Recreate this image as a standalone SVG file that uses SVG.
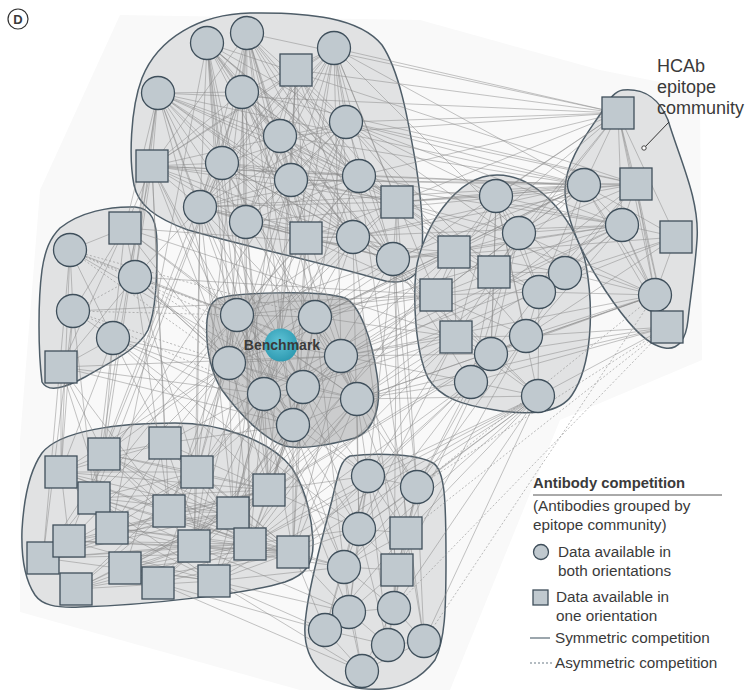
<svg xmlns="http://www.w3.org/2000/svg" width="745" height="691" viewBox="0 0 745 691">
<defs>
<radialGradient id="teal" cx="0.45" cy="0.4" r="0.6"><stop offset="0" stop-color="#5fc3d6"/><stop offset="1" stop-color="#2f9bb2"/></radialGradient>
</defs>
<style>
.hull{fill:#e1e2e3;stroke:#4e5d68;stroke-width:1.5}
.e{fill:none;stroke:#8a8a8a;stroke-opacity:.5;stroke-width:1;stroke-linejoin:round}
.d{fill:none;stroke:#8f8f8f;stroke-opacity:.6;stroke-width:1;stroke-dasharray:2 2}
.n{fill:#c0c9cf;stroke:#3f4f5b;stroke-width:1.3}
.t{font-family:"Liberation Sans",Arial,sans-serif;fill:#3a3a3a}
</style>
<rect width="745" height="691" fill="#ffffff"/>
<polygon points="120,15 420,20 600,70 700,90 702,360 560,420 450,690 300,690 20,612 20,440 40,190" fill="#f9f9f9"/>
<g id="label-d"><circle cx="18" cy="19" r="10" fill="#fff" stroke="#333" stroke-width="1.2"/><text class="t" x="18" y="24" font-size="13" font-weight="bold" text-anchor="middle" fill="#333">D</text></g>

<g id="communities">
<path id="hull-top" class="hull" d="M250 13C310 12 360 18 382 45C400 72 408 120 416 165C422 205 426 250 418 270C410 284 392 284 378 279C320 262 240 245 188 230C155 218 138 205 134 185C129 160 130 110 142 78C158 38 200 14 250 13Z"/>
<path id="hull-left" class="hull" d="M60 228C80 212 110 206 135 207C152 208 157 222 157 245C157 280 156 310 148 330C138 350 110 362 85 377C65 388 48 393 42 382C38 350 38 300 42 270C45 250 50 238 60 228Z"/>
<path id="hull-bench" class="hull" style="fill:#cbcccd" d="M217 299C235 292 320 290 345 298C360 305 372 340 377 375C382 405 375 430 355 438C330 445 300 450 285 446C265 440 240 415 222 390C212 375 205 350 207 320C208 308 212 302 217 299Z"/>
<path id="hull-mid" class="hull" d="M497 175C540 175 578 225 586 265C594 310 592 365 572 395C560 413 530 416 495 410C462 405 440 398 428 378C415 350 413 300 416 270C422 230 455 175 497 175Z"/>
<path id="hull-hcab" class="hull" d="M623 90C645 88 660 100 668 120C680 160 700 200 697 240C695 270 690 300 688 320C686 340 678 350 665 348C645 345 625 320 605 290C585 260 565 220 565 190C565 160 590 130 603 110C610 98 615 91 623 90Z"/>
<path id="hull-squares" class="hull" d="M175 423C220 423 270 440 292 468C305 488 311 510 313 540C314 565 305 575 285 582C250 593 150 605 80 607C55 608 42 605 35 595C25 580 21 560 22 530C24 495 30 470 42 453C60 430 120 423 175 423Z"/>
<path id="hull-bottom" class="hull" d="M350 456C380 452 420 455 433 463C445 470 446 500 446 560C446 610 445 640 435 660C420 680 400 688 383 689C360 690 340 688 320 670C305 655 303 635 306 615C310 580 322 540 332 500C338 475 340 460 350 456Z"/>
</g>

<g id="connectors">
<path class="e" d="M242 92L207 43L280 136M222 163L207 43L291 180M359 176L207 43L200 207M246 222L207 43L306 238M353 237L207 43L393 259M397 202L207 43L346 122M237 315L207 43L229 363M264 394L207 43L112 528M207 43L454 252"/>
<path class="e" d="M242 92L247 33L280 136M222 163L247 33L291 180M359 176L247 33L397 202M200 207L247 33L246 222M306 238L247 33L353 237M393 259L247 33L152 166M346 122L247 33L315 317M303 387L247 33L293 425M618 113L247 33L197 472"/>
<path class="e" d="M346 122L334 48L280 136M222 163L334 48L291 180M359 176L334 48L397 202M200 207L334 48L246 222M306 238L334 48L353 237M393 259L334 48L296 70M242 92L334 48L152 166M618 113L334 48L584 185M519 233L334 48L436 295M334 48L341 356"/>
<path class="e" d="M242 92L158 93L280 136M222 163L158 93L291 180M359 176L158 93L200 207M246 222L158 93L306 238M353 237L158 93L393 259M397 202L158 93L152 166M125 228L158 93L135 277M229 363L158 93L237 315M104 454L158 93L94 498"/>
<path class="e" d="M280 136L296 70L222 163M291 180L296 70L359 176M200 207L296 70L246 222M306 238L296 70L353 237M393 259L296 70L152 166M618 113L296 70L494 272M296 70L281 345"/>
<path class="e" d="M280 136L242 92L222 163M291 180L242 92L359 176M397 202L242 92L200 207M246 222L242 92L306 238M353 237L242 92L393 259M152 166L242 92L281 345M341 356L242 92L636 184M242 92L69 541"/>
<path class="e" d="M222 163L346 122L291 180M200 207L346 122L246 222M306 238L346 122L393 259M152 166L346 122L618 113M636 184L346 122L584 185M496 196L346 122L454 252M565 273L346 122L315 317"/>
<path class="e" d="M222 163L152 166L291 180M359 176L152 166L397 202M246 222L152 166L306 238M353 237L152 166L200 207M125 228L152 166L135 277M113 338L152 166L229 363M264 394L152 166L165 443M152 166L169 511"/>
<path class="e" d="M359 176L280 136L200 207M246 222L280 136L306 238M353 237L280 136L393 259M397 202L280 136L357 399M584 185L280 136L454 252"/>
<path class="e" d="M359 176L222 163L397 202M200 207L222 163L306 238M353 237L222 163L393 259M315 317L222 163L357 399M104 454L222 163L94 498"/>
<path class="e" d="M397 202L291 180L200 207M246 222L291 180L353 237M393 259L291 180L584 185M229 363L291 180L43 558"/>
<path class="e" d="M200 207L359 176L246 222M306 238L359 176L397 202M618 113L359 176L622 225M264 394L359 176L424 641"/>
<path class="e" d="M200 207L397 202L306 238M353 237L397 202L393 259M496 196L397 202L519 233M494 272L397 202L539 292M584 185L397 202L636 184M655 295L397 202L417 487M397 202L394 608"/>
<path class="e" d="M246 222L200 207L306 238M353 237L200 207L393 259M135 277L200 207L303 387M293 425L200 207L341 356M197 472L200 207L233 513M200 207L194 546"/>
<path class="e" d="M306 238L246 222L353 237M393 259L246 222L357 399M264 394L246 222L269 490M246 222L250 544"/>
<path class="e" d="M353 237L306 238L393 259M237 315L306 238L229 363M526 336L306 238L344 567M293 552L306 238L214 581"/>
<path class="e" d="M393 259L353 237L494 272M491 354L353 237L636 184M229 363L353 237L264 394M269 490L353 237L359 529M353 237L397 570"/>
<path class="e" d="M454 252L393 259L436 295M456 337L393 259L471 382M622 225L393 259L676 237M237 315L393 259L293 425M368 476L393 259L417 487M393 259L406 533"/>
<path class="e" d="M158 93L618 113M158 93L584 185M152 166L584 185M222 163L622 225M200 207L584 185M246 222L636 184M306 238L622 225M207 43L636 184M280 136L618 113M291 180L636 184M359 176L584 185M346 122L622 225M397 202L618 113M393 259L584 185M353 237L584 185"/>
<path class="e" d="M242 92L250 544M280 136L233 513M291 180L194 546M246 222L194 546M207 43L250 544M222 163L269 490M296 70L269 490"/>
<path class="e" d="M346 122L229 363M359 176L237 315M334 48L264 394M247 33L229 363M152 166L293 425M158 93L303 387M397 202L229 363M393 259L229 363M353 237L237 315M306 238L293 425"/>
<path class="e" d="M135 277L368 476M113 338L359 529M125 228L456 337M73 311L436 295M70 250L303 387M61 367L341 356M454 252L197 472M436 295L165 443"/>
<path class="e" d="M456 337L194 546M526 336L233 513M491 354L269 490M539 292L303 387M565 273L341 356M584 185L315 317M618 113L315 317M636 184L357 399M622 225L303 387M655 295L357 399"/>
<path class="e" d="M70 250L125 228L135 277M73 311L125 228L113 338M61 367L125 228L237 315M229 363L125 228L281 345M125 228L454 252"/>
<path class="e" d="M73 311L70 250L113 338M237 315L70 250L43 558M70 250L61 472"/>
<path class="d" d="M135 277L70 250L229 363M281 345L70 250L315 317"/>
<path class="e" d="M61 367L135 277L237 315M229 363L135 277L264 394M197 472L135 277L169 511M135 277L436 295"/>
<path class="d" d="M73 311L135 277L341 356M135 277L303 387"/>
<path class="e" d="M113 338L73 311L94 498M43 558L73 311L61 472"/>
<path class="d" d="M229 363L73 311L237 315M73 311L264 394"/>
<path class="e" d="M61 367L113 338L229 363M264 394L113 338L293 425M61 472L113 338L104 454M165 443L113 338L94 498M113 338L269 490"/>
<path class="e" d="M264 394L61 367L293 425M61 472L61 367L104 454M112 528L61 367L169 511"/>
<path class="e" d="M237 315L281 345L315 317M229 363L281 345L341 356M264 394L281 345L303 387M357 399L281 345L293 425M197 472L281 345L233 513M281 345L454 252"/>
<path class="e" d="M315 317L237 315L229 363M341 356L237 315L264 394M303 387L237 315L357 399M293 425L237 315L104 454M197 472L237 315L169 511M43 558L237 315L436 295"/>
<path class="e" d="M229 363L315 317L341 356M264 394L315 317L303 387M357 399L315 317L293 425M454 252L315 317L436 295M456 337L315 317L584 185M315 317L622 225"/>
<path class="e" d="M341 356L229 363L264 394M303 387L229 363L357 399M293 425L229 363L61 472M104 454L229 363L165 443M197 472L229 363L269 490M94 498L229 363L169 511M229 363L233 513"/>
<path class="e" d="M264 394L341 356L303 387M357 399L341 356L293 425M436 295L341 356L456 337M471 382L341 356L491 354M250 544L341 356L293 552M417 487L341 356L406 533M622 225L341 356L655 295"/>
<path class="e" d="M303 387L264 394L357 399M293 425L264 394L197 472M269 490L264 394L169 511M233 513L264 394L194 546M250 544L264 394L293 552M344 567L264 394L349 612"/>
<path class="e" d="M357 399L303 387L293 425M269 490L303 387L233 513M250 544L303 387L293 552M456 337L303 387L436 295M368 476L303 387L359 529"/>
<path class="e" d="M293 425L357 399L456 337M471 382L357 399L538 396M269 490L357 399L250 544M293 552L357 399L214 581M368 476L357 399L417 487M359 529L357 399L655 295M357 399L667 327"/>
<path class="e" d="M165 443L293 425L269 490M233 513L293 425L194 546M250 544L293 425L293 552M158 583L293 425L214 581M368 476L293 425L359 529M293 425L344 567"/>
<path class="e" d="M519 233L496 196L454 252M494 272L496 196L565 273M436 295L496 196L539 292M526 336L496 196L456 337M491 354L496 196L538 396"/>
<path class="e" d="M454 252L519 233L494 272M436 295L519 233L456 337M491 354L519 233L471 382M519 233L539 292"/>
<path class="e" d="M494 272L454 252L436 295M456 337L454 252L526 336M454 252L565 273M454 252L269 490"/>
<path class="e" d="M565 273L494 272L539 292M491 354L494 272L471 382M494 272L436 295"/>
<path class="e" d="M436 295L565 273L526 336M456 337L565 273L539 292"/>
<path class="e" d="M539 292L436 295L491 354M538 396L436 295L456 337M436 295L233 513"/>
<path class="e" d="M471 382L539 292L538 396M539 292L526 336"/>
<path class="e" d="M456 337L526 336L491 354M417 487L526 336L397 570"/>
<path class="e" d="M538 396L456 337L491 354M368 476L456 337L359 529M456 337L250 544"/>
<path class="e" d="M417 487L491 354L406 533M491 354L538 396"/>
<path class="e" d="M538 396L471 382L368 476M417 487L471 382L359 529M293 552L471 382L250 544"/>
<path class="e" d="M368 476L538 396L417 487M359 529L538 396L406 533M344 567L538 396L394 608M424 641L538 396L293 552M214 581L538 396L250 544"/>
<path class="e" d="M584 185L618 113L636 184M622 225L618 113L676 237M655 295L618 113L667 327M496 196L618 113L519 233M454 252L618 113L494 272"/>
<path class="e" d="M636 184L584 185L622 225M676 237L584 185L655 295M667 327L584 185L496 196M519 233L584 185L494 272M565 273L584 185L539 292M454 252L584 185L436 295"/>
<path class="e" d="M622 225L636 184L655 295M667 327L636 184L519 233M565 273L636 184L539 292"/>
<path class="e" d="M676 237L622 225L655 295M667 327L622 225L496 196M519 233L622 225L565 273M539 292L622 225L526 336M622 225L454 252"/>
<path class="e" d="M655 295L676 237L565 273M539 292L676 237L526 336"/>
<path class="e" d="M667 327L655 295L565 273M539 292L655 295L526 336M491 354L655 295L519 233"/>
<path class="d" d="M424 641L655 295L417 487"/>
<path class="e" d="M526 336L667 327L491 354M538 396L667 327L471 382"/>
<path class="d" d="M417 487L667 327L406 533M667 327L394 608"/>
<path class="e" d="M104 454L61 472L165 443M197 472L61 472L94 498M169 511L61 472L112 528M69 541L61 472L269 490M61 472L233 513"/>
<path class="e" d="M165 443L104 454L197 472M269 490L104 454L169 511M233 513L104 454L194 546M104 454L250 544"/>
<path class="e" d="M197 472L165 443L269 490M233 513L165 443L250 544M293 552L165 443L112 528M69 541L165 443L125 568"/>
<path class="e" d="M269 490L197 472L94 498M112 528L197 472L194 546M293 552L197 472L158 583M76 589L197 472L43 558"/>
<path class="e" d="M94 498L269 490L112 528M69 541L269 490L43 558M125 568L269 490L158 583M76 589L269 490L169 511M194 546L269 490L368 476M269 490L359 529"/>
<path class="e" d="M233 513L94 498L194 546M250 544L94 498L293 552M94 498L214 581"/>
<path class="e" d="M250 544L169 511L293 552M76 589L169 511L43 558M169 511L233 513"/>
<path class="e" d="M112 528L233 513L69 541M43 558L233 513L125 568M158 583L233 513L76 589M233 513L293 552"/>
<path class="e" d="M250 544L112 528L293 552M214 581L112 528L194 546"/>
<path class="e" d="M194 546L69 541L250 544M293 552L69 541L214 581"/>
<path class="e" d="M250 544L43 558L293 552M214 581L43 558L194 546"/>
<path class="e" d="M250 544L194 546L293 552M76 589L194 546L125 568M344 567L194 546L349 612"/>
<path class="e" d="M125 568L250 544L158 583M76 589L250 544L293 552M359 529L250 544L344 567M250 544L368 476"/>
<path class="e" d="M125 568L293 552L158 583M214 581L293 552L76 589M368 476L293 552L359 529M344 567L293 552L349 612M293 552L325 630"/>
<path class="e" d="M214 581L125 568L158 583M61 472L250 544M104 454L293 552M165 443L214 581M197 472L250 544"/>
<path class="e" d="M76 589L214 581L344 567M349 612L214 581L325 630M214 581L362 671"/>
<path class="e" d="M325 630L158 583L362 671"/>
<path class="e" d="M417 487L368 476L359 529M406 533L368 476L344 567M349 612L368 476L325 630M388 645L368 476L397 570"/>
<path class="e" d="M359 529L417 487L406 533M397 570L417 487L394 608M424 641L417 487L344 567"/>
<path class="e" d="M406 533L359 529L344 567M349 612L359 529L397 570M359 529L388 645"/>
<path class="e" d="M344 567L406 533L397 570M394 608L406 533L424 641M406 533L325 630"/>
<path class="e" d="M349 612L344 567L325 630M394 608L344 567L397 570M344 567L362 671"/>
<path class="e" d="M394 608L397 570L388 645M397 570L349 612"/>
<path class="e" d="M325 630L349 612L388 645M362 671L349 612L394 608"/>
<path class="e" d="M424 641L394 608L388 645M394 608L362 671"/>
<path class="e" d="M362 671L325 630L388 645M388 645L424 641L362 671M388 645L362 671"/>
</g>

<g id="nodes">
<g id="t1"><circle class="n" cx="207" cy="43" r="16.5"/></g>
<g id="t2"><circle class="n" cx="247" cy="33" r="16.5"/></g>
<g id="t3"><rect class="n" x="280" y="54" width="32" height="32"/></g>
<g id="t4"><circle class="n" cx="334" cy="48" r="16.5"/></g>
<g id="t5"><circle class="n" cx="158" cy="93" r="16.5"/></g>
<g id="t6"><circle class="n" cx="242" cy="92" r="16.5"/></g>
<g id="t7"><circle class="n" cx="346" cy="122" r="16.5"/></g>
<g id="t8"><circle class="n" cx="280" cy="136" r="16.5"/></g>
<g id="t9"><rect class="n" x="136" y="150" width="32" height="32"/></g>
<g id="t10"><circle class="n" cx="222" cy="163" r="16.5"/></g>
<g id="t11"><circle class="n" cx="291" cy="180" r="16.5"/></g>
<g id="t12"><circle class="n" cx="359" cy="176" r="16.5"/></g>
<g id="t13"><rect class="n" x="381" y="186" width="32" height="32"/></g>
<g id="t14"><circle class="n" cx="200" cy="207" r="16.5"/></g>
<g id="t15"><circle class="n" cx="246" cy="222" r="16.5"/></g>
<g id="t16"><rect class="n" x="290" y="222" width="32" height="32"/></g>
<g id="t17"><circle class="n" cx="353" cy="237" r="16.5"/></g>
<g id="t18"><circle class="n" cx="393" cy="259" r="16.5"/></g>

<g id="l1"><rect class="n" x="109" y="212" width="32" height="32"/></g>
<g id="l2"><circle class="n" cx="70" cy="250" r="16.5"/></g>
<g id="l3"><circle class="n" cx="135" cy="277" r="16.5"/></g>
<g id="l4"><circle class="n" cx="73" cy="311" r="16.5"/></g>
<g id="l5"><circle class="n" cx="113" cy="338" r="16.5"/></g>
<g id="l6"><rect class="n" x="45" y="351" width="32" height="32"/></g>

<g id="b1"><circle class="n" cx="237" cy="315" r="16.5"/></g>
<g id="b2"><circle class="n" cx="315" cy="317" r="16.5"/></g>
<g id="b3"><circle class="n" cx="229" cy="363" r="16.5"/></g>
<g id="b4"><circle class="n" cx="341" cy="356" r="16.5"/></g>
<g id="b5"><circle class="n" cx="264" cy="394" r="16.5"/></g>
<g id="b6"><circle class="n" cx="303" cy="387" r="16.5"/></g>
<g id="b7"><circle class="n" cx="357" cy="399" r="16.5"/></g>
<g id="b8"><circle class="n" cx="293" cy="425" r="16.5"/></g>
<g id="benchmark"><circle cx="281" cy="345" r="16.5" fill="url(#teal)"/><text class="t" x="282" y="350" font-size="14" font-weight="bold" text-anchor="middle" fill="#2b2f33">Benchmark</text></g>

<g id="m1"><circle class="n" cx="496" cy="196" r="16.5"/></g>
<g id="m2"><circle class="n" cx="519" cy="233" r="16.5"/></g>
<g id="m3"><rect class="n" x="438" y="236" width="32" height="32"/></g>
<g id="m4"><rect class="n" x="478" y="256" width="32" height="32"/></g>
<g id="m5"><circle class="n" cx="565" cy="273" r="16.5"/></g>
<g id="m6"><rect class="n" x="420" y="279" width="32" height="32"/></g>
<g id="m7"><circle class="n" cx="539" cy="292" r="16.5"/></g>
<g id="m8"><circle class="n" cx="526" cy="336" r="16.5"/></g>
<g id="m9"><rect class="n" x="440" y="321" width="32" height="32"/></g>
<g id="m10"><circle class="n" cx="491" cy="354" r="16.5"/></g>
<g id="m11"><circle class="n" cx="471" cy="382" r="16.5"/></g>
<g id="m12"><circle class="n" cx="538" cy="396" r="16.5"/></g>

<g id="h1"><rect class="n" x="602" y="97" width="32" height="32"/></g>
<g id="h2"><circle class="n" cx="584" cy="185" r="16.5"/></g>
<g id="h3"><rect class="n" x="620" y="168" width="32" height="32"/></g>
<g id="h4"><circle class="n" cx="622" cy="225" r="16.5"/></g>
<g id="h5"><rect class="n" x="660" y="221" width="32" height="32"/></g>
<g id="h6"><circle class="n" cx="655" cy="295" r="16.5"/></g>
<g id="h7"><rect class="n" x="651" y="311" width="32" height="32"/></g>

<g id="s1"><rect class="n" x="45" y="456" width="32" height="32"/></g>
<g id="s2"><rect class="n" x="88" y="438" width="32" height="32"/></g>
<g id="s3"><rect class="n" x="149" y="427" width="32" height="32"/></g>
<g id="s4"><rect class="n" x="181" y="456" width="32" height="32"/></g>
<g id="s5"><rect class="n" x="253" y="474" width="32" height="32"/></g>
<g id="s6"><rect class="n" x="78" y="482" width="32" height="32"/></g>
<g id="s7"><rect class="n" x="153" y="495" width="32" height="32"/></g>
<g id="s8"><rect class="n" x="217" y="497" width="32" height="32"/></g>
<g id="s9"><rect class="n" x="96" y="512" width="32" height="32"/></g>
<g id="s11"><rect class="n" x="27" y="542" width="32" height="32"/></g>
<g id="s10"><rect class="n" x="53" y="525" width="32" height="32"/></g>
<g id="s12"><rect class="n" x="178" y="530" width="32" height="32"/></g>
<g id="s13"><rect class="n" x="234" y="528" width="32" height="32"/></g>
<g id="s14"><rect class="n" x="277" y="536" width="32" height="32"/></g>
<g id="s15"><rect class="n" x="109" y="552" width="32" height="32"/></g>
<g id="s16"><rect class="n" x="142" y="567" width="32" height="32"/></g>
<g id="s17"><rect class="n" x="198" y="565" width="32" height="32"/></g>
<g id="s18"><rect class="n" x="60" y="573" width="32" height="32"/></g>

<g id="p1"><circle class="n" cx="368" cy="476" r="16.5"/></g>
<g id="p2"><circle class="n" cx="417" cy="487" r="16.5"/></g>
<g id="p3"><circle class="n" cx="359" cy="529" r="16.5"/></g>
<g id="p4"><rect class="n" x="390" y="517" width="32" height="32"/></g>
<g id="p5"><circle class="n" cx="344" cy="567" r="16.5"/></g>
<g id="p6"><rect class="n" x="381" y="554" width="32" height="32"/></g>
<g id="p7"><circle class="n" cx="349" cy="612" r="16.5"/></g>
<g id="p8"><circle class="n" cx="394" cy="608" r="16.5"/></g>
<g id="p9"><circle class="n" cx="325" cy="630" r="16.5"/></g>
<g id="p10"><circle class="n" cx="424" cy="641" r="16.5"/></g>
<g id="p11"><circle class="n" cx="388" cy="645" r="16.5"/></g>
<g id="p12"><circle class="n" cx="362" cy="671" r="16.5"/></g>
</g>

<g id="hcab-label">
<line x1="644" y1="148" x2="669" y2="122" stroke="#333" stroke-width="1"/>
<circle cx="644" cy="148" r="2.2" fill="#fff" stroke="#333" stroke-width="0.9"/>
<text class="t" font-size="18" fill="#222"><tspan x="657" y="72">HCAb</tspan><tspan x="657" y="93">epitope</tspan><tspan x="657" y="114">community</tspan></text>
</g>

<g id="legend">
<text class="t" x="533" y="488" font-size="14.8" font-weight="bold">Antibody competition</text>
<line x1="533" y1="495" x2="722" y2="495" stroke="#555" stroke-width="1"/>
<text class="t" font-size="15.3"><tspan x="533" y="511">(Antibodies grouped by</tspan><tspan x="533" y="530">epitope community)</tspan></text>
<circle class="n" cx="541" cy="552" r="7.5"/>
<text class="t" font-size="15.3"><tspan x="558" y="557">Data available in</tspan><tspan x="558" y="576">both orientations</tspan></text>
<rect class="n" x="533" y="590" width="15" height="15"/>
<text class="t" font-size="15.3"><tspan x="556" y="602">Data available in</tspan><tspan x="556" y="621">one orientation</tspan></text>
<line x1="530" y1="638" x2="550" y2="638" stroke="#5a6a76" stroke-width="1.2"/>
<text class="t" x="555" y="643" font-size="15.3">Symmetric competition</text>
<line x1="530" y1="663" x2="552" y2="663" stroke="#6a7a86" stroke-width="1.2" stroke-dasharray="2 2"/>
<text class="t" x="555" y="668" font-size="15.3">Asymmetric competition</text>
</g>
</svg>
